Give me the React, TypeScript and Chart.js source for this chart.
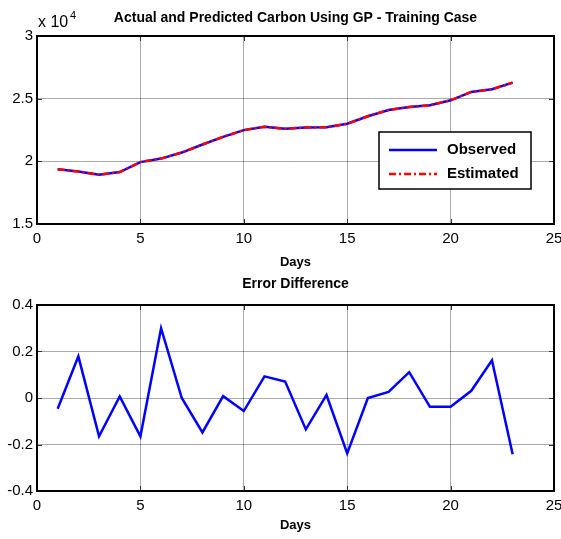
import React, { useEffect, useRef } from "react";
import { Chart, registerables } from "chart.js";

Chart.register(...registerables);

const days = [1, 2, 3, 4, 5, 6, 7, 8, 9, 10, 11, 12, 13, 14, 15, 16, 17, 18, 19, 20, 21, 22, 23];
const observed = [19360, 19180, 18930, 19140, 19940, 20220, 20700, 21340, 21950, 22490, 22760, 22600, 22700, 22720, 23000, 23600, 24100, 24330, 24470, 24870, 25540, 25750, 26280];
const estimated = [19360, 19180, 18930, 19140, 19940, 20220, 20700, 21340, 21950, 22490, 22760, 22600, 22700, 22720, 23000, 23600, 24100, 24330, 24470, 24870, 25540, 25750, 26280];
const errorDiff = [-0.046, 0.179, -0.165, 0.007, -0.165, 0.3, 0.0, -0.148, 0.008, -0.056, 0.093, 0.071, -0.135, 0.013, -0.238, 0.0, 0.026, 0.111, -0.038, -0.038, 0.031, 0.162, -0.242];

const topTitle = "Actual and Predicted Carbon Using GP - Training Case";
const bottomTitle = "Error Difference";
const xTitle = "Days";
const legendLabels = ["Observed", "Estimated"];

const FONT = "'Liberation Sans', Arial, sans-serif";
const BLUE = "#0000ff";
const RED = "#ff0000";
const DASHDOT = [7, 3, 2, 3];

function framePlugin(opts: { title: string; titleY: number; exponent?: boolean; legend?: boolean }) {
  return {
    id: "matlabFrame",
    afterDraw(chart: any) {
      const ctx = chart.ctx as CanvasRenderingContext2D;
      const { left, right, top, bottom } = chart.chartArea;
      ctx.save();
      // inner tick marks
      ctx.strokeStyle = "#333";
      ctx.lineWidth = 1;
      const xs = chart.scales.x;
      const ys = chart.scales.y;
      const tl = 5;
      xs.ticks.forEach((t: any) => {
        const px = Math.round(xs.getPixelForValue(t.value)) + 0.5;
        ctx.beginPath();
        ctx.moveTo(px, bottom);
        ctx.lineTo(px, bottom - tl);
        ctx.moveTo(px, top);
        ctx.lineTo(px, top + tl);
        ctx.stroke();
      });
      ys.ticks.forEach((t: any) => {
        const py = Math.round(ys.getPixelForValue(t.value)) + 0.5;
        ctx.beginPath();
        ctx.moveTo(left, py);
        ctx.lineTo(left + tl, py);
        ctx.moveTo(right, py);
        ctx.lineTo(right - tl, py);
        ctx.stroke();
      });
      // frame
      ctx.strokeStyle = "#000";
      ctx.lineWidth = 2;
      ctx.strokeRect(left, top, right - left, bottom - top);
      // title
      ctx.fillStyle = "#000";
      ctx.font = `bold 14px ${FONT}`;
      ctx.textAlign = "center";
      ctx.textBaseline = "middle";
      ctx.fillText(opts.title, (left + right) / 2, opts.titleY);
      if (opts.exponent) {
        ctx.textAlign = "left";
        ctx.textBaseline = "alphabetic";
        ctx.font = `16px ${FONT}`;
        ctx.fillText("x 10", left + 1, 27);
        ctx.font = `11px ${FONT}`;
        ctx.fillText("4", left + 33, 19);
      }
      if (opts.legend) {
        const bx = 379, by = 132, bw = 152, bh = 57;
        ctx.fillStyle = "#fff";
        ctx.fillRect(bx, by, bw, bh);
        ctx.strokeStyle = "#000";
        ctx.lineWidth = 1.5;
        ctx.strokeRect(bx, by, bw, bh);
        ctx.lineWidth = 2.5;
        ctx.strokeStyle = BLUE;
        ctx.beginPath();
        ctx.moveTo(bx + 10, by + 18);
        ctx.lineTo(bx + 58, by + 18);
        ctx.stroke();
        ctx.strokeStyle = RED;
        ctx.setLineDash(DASHDOT);
        ctx.beginPath();
        ctx.moveTo(bx + 10, by + 42);
        ctx.lineTo(bx + 58, by + 42);
        ctx.stroke();
        ctx.setLineDash([]);
        ctx.fillStyle = "#000";
        ctx.font = `bold 15px ${FONT}`;
        ctx.textAlign = "left";
        ctx.textBaseline = "middle";
        ctx.fillText(legendLabels[0], bx + 68, by + 18);
        ctx.fillText(legendLabels[1], bx + 68, by + 42);
      }
      ctx.restore();
    },
  };
}

function xScale(height: number, titlePadBottom: number) {
  return {
    type: "linear" as const,
    min: 0,
    max: 25,
    ticks: { stepSize: 5, padding: 6, color: "#000", font: { family: FONT, size: 15 } },
    grid: { color: "rgba(0,0,0,0.33)", lineWidth: 1, drawTicks: false },
    border: { display: false },
    title: {
      display: true,
      text: xTitle,
      color: "#000",
      font: { family: FONT, size: 13, weight: "bold" as const },
      padding: { top: 0, bottom: titlePadBottom },
    },
    afterFit(scale: any) {
      scale.height = height;
      scale.paddingLeft = 0;
      scale.paddingRight = 0;
    },
  };
}

function yScale(min: number, max: number, step: number, fmt: (v: number) => string) {
  return {
    type: "linear" as const,
    min,
    max,
    ticks: {
      stepSize: step,
      padding: 4,
      color: "#000",
      font: { family: FONT, size: 15 },
      callback: (v: any) => fmt(Number(v)),
    },
    grid: { color: "rgba(0,0,0,0.33)", lineWidth: 1, drawTicks: false },
    border: { display: false },
    afterFit(scale: any) {
      scale.width = 37;
      scale.paddingTop = 0;
      scale.paddingBottom = 0;
    },
  };
}

export default function App() {
  const topRef = useRef<HTMLCanvasElement>(null);
  const botRef = useRef<HTMLCanvasElement>(null);

  useEffect(() => {
    const top = new Chart(topRef.current!, {
      type: "line",
      data: {
        datasets: [
          {
            label: legendLabels[0],
            data: days.map((d, i) => ({ x: d, y: observed[i] })),
            borderColor: BLUE,
            borderWidth: 2.5,
            pointRadius: 0,
            tension: 0,
            order: 2,
          },
          {
            label: legendLabels[1],
            data: days.map((d, i) => ({ x: d, y: estimated[i] })),
            borderColor: RED,
            borderWidth: 2.5,
            borderDash: DASHDOT,
            pointRadius: 0,
            tension: 0,
            order: 1,
          },
        ],
      },
      options: {
        responsive: false,
        animation: false,
        devicePixelRatio: 1,
        layout: { padding: { left: 0, right: 7, top: 36, bottom: 0 } },
        plugins: { legend: { display: false }, tooltip: { enabled: false }, title: { display: false } },
        scales: {
          x: xScale(46, 0),
          y: yScale(15000, 30000, 5000, (v) => String(Number((v / 10000).toFixed(1)))),
        },
      },
      plugins: [framePlugin({ title: topTitle, titleY: 18, exponent: true, legend: true })],
    });

    const bot = new Chart(botRef.current!, {
      type: "line",
      data: {
        datasets: [
          {
            label: bottomTitle,
            data: days.map((d, i) => ({ x: d, y: errorDiff[i] })),
            borderColor: BLUE,
            borderWidth: 2.5,
            pointRadius: 0,
            tension: 0,
          },
        ],
      },
      options: {
        responsive: false,
        animation: false,
        devicePixelRatio: 1,
        layout: { padding: { left: 0, right: 7, top: 35, bottom: 0 } },
        plugins: { legend: { display: false }, tooltip: { enabled: false }, title: { display: false } },
        scales: {
          x: xScale(48, 6),
          y: yScale(-0.4, 0.4, 0.2, (v) => String(Number(v.toFixed(1)))),
        },
      },
      plugins: [framePlugin({ title: bottomTitle, titleY: 14 })],
    });

    return () => {
      top.destroy();
      bot.destroy();
    };
  }, []);

  return (
    <div style={{ position: "absolute", left: 0, top: 0, width: 561, height: 539, background: "#fff" }}>
      <canvas ref={topRef} width={561} height={270} style={{ position: "absolute", left: 0, top: 0, width: 561, height: 270 }} />
      <canvas ref={botRef} width={561} height={269} style={{ position: "absolute", left: 0, top: 270, width: 561, height: 269 }} />
    </div>
  );
}
